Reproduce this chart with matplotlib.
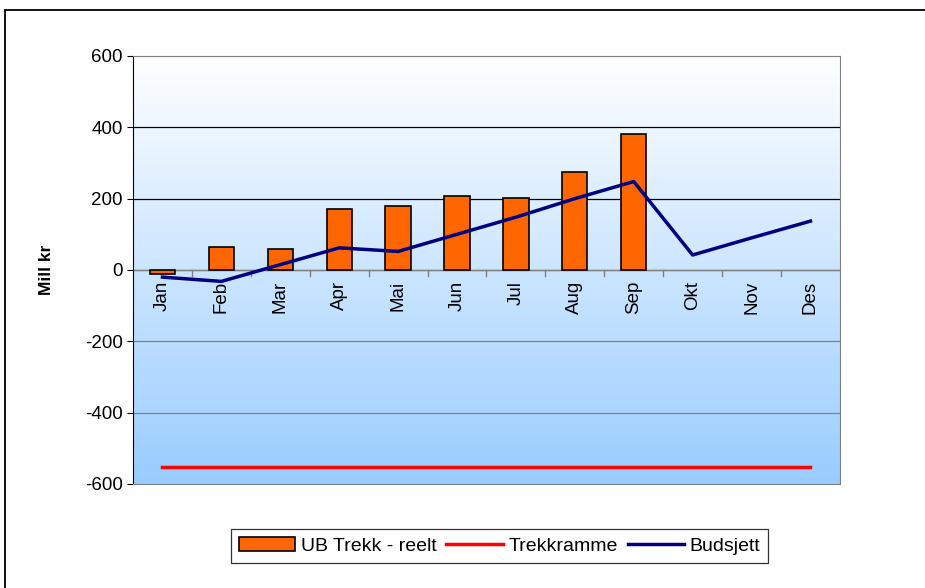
#%% imports
from matplotlib import pyplot as plt
from matplotlib.patches import Rectangle
import numpy as np

plt.rcParams['font.family'] = ['Liberation Sans', 'DejaVu Sans']
plt.rcParams['axes.unicode_minus'] = False

#%% data (mill kr)
months = ["Jan", "Feb", "Mar", "Apr", "Mai", "Jun", "Jul", "Aug", "Sep", "Okt", "Nov", "Des"]
ub_trekk = [-12, 64, 59, 171, 180, 207, 202, 275, 381]  # only through Sep
trekkramme = [-553] * 12
budsjett = [-20, -32, 15, 62, 52, 100, 148, 200, 248, 42, 90, 137]
yticks = [-600, -400, -200, 0, 200, 400, 600]

#%% figure
fig = plt.figure(figsize=(9.25, 5.88), dpi=100)
ax = fig.add_axes([0.1438, 0.1769, 0.7642, 0.7279])

# outer frame of the chart
fig.patches.append(Rectangle((0.0055, -0.05), 1.05, 1.0330, transform=fig.transFigure,
                             fill=False, edgecolor="black", linewidth=1.3))

x = np.arange(len(months))

# gradient background: white at top -> light blue at bottom
grad = np.linspace(0, 1, 256).reshape(-1, 1)
top = np.array([1.0, 1.0, 1.0])
bot = np.array([0x99, 0xCC, 0xFF]) / 255
img = top * (1 - grad[..., None]) + bot * grad[..., None]
ax.imshow(img, extent=[-0.5, len(months) - 0.5, -600, 600], aspect="auto", zorder=0)
ax.set_xlim(-0.5, len(months) - 0.5)
ax.set_ylim(-600, 600)

# gridlines
for yv in yticks[1:-1]:
    ax.axhline(yv, color="black" if yv > 0 else "#808080", linewidth=0.9, zorder=1)
ax.axhline(0, color="#808080", linewidth=1.0, zorder=1)

bars = ax.bar(x[:len(ub_trekk)], ub_trekk, width=0.43, color="#FF6600", edgecolor="black",
              linewidth=1.2, zorder=2, label="UB Trekk - reelt")
l1, = ax.plot(x, trekkramme, color="#FF0000", linewidth=2.5, zorder=3, label="Trekkramme")
l2, = ax.plot(x, budsjett, color="#000080", linewidth=2.5, zorder=3, label="Budsjett")

# category ticks along the zero line
for xb in np.arange(0.5, len(months) - 0.5, 1):
    ax.plot([xb, xb], [0, -16], color="#808080", linewidth=1.0, zorder=1)
for xi, m in zip(x, months):
    ax.annotate(m, (xi, 0), xytext=(0, -8), textcoords="offset points",
                rotation=90, ha="center", va="top", fontsize=13.5)

ax.set_xticks([])
ax.set_yticks(yticks)
ax.tick_params(axis="y", labelsize=13.5, length=4, color="black")
ax.set_ylabel("Mill kr", fontsize=12.5, fontweight="bold", labelpad=22)
for s in ["top", "right", "bottom"]:
    ax.spines[s].set_color("#808080")
ax.spines["left"].set_color("black")

leg = fig.legend([bars, l1, l2], ["UB Trekk - reelt", "Trekkramme", "Budsjett"],
                 loc="center", bbox_to_anchor=(0.54, 0.0714), ncol=3, fontsize=14,
                 frameon=True, fancybox=False, edgecolor="black", handlelength=2.9,
                 columnspacing=0.5, handletextpad=0.3, borderpad=0.4)
leg.get_frame().set_linewidth(0.9)

fig.savefig("out.png", dpi=100)
